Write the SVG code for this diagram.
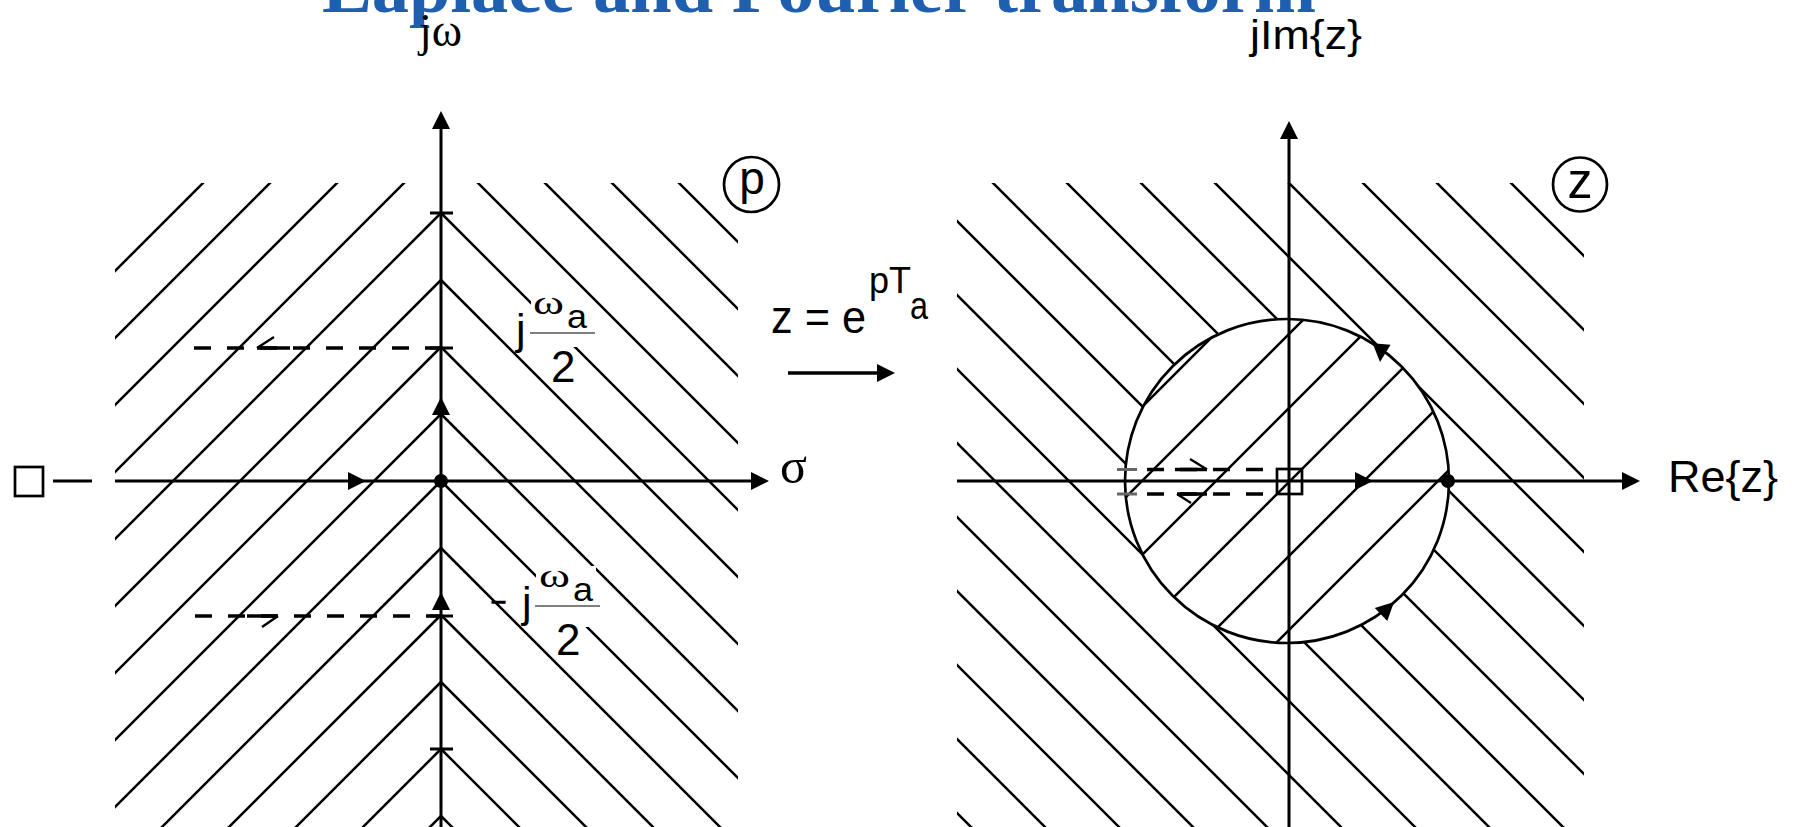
<svg xmlns="http://www.w3.org/2000/svg" width="1800" height="827" viewBox="0 0 1800 827">
<style>
.h{stroke:#000;stroke-width:2.5;fill:none}
.ax{stroke:#000;stroke-width:3;fill:none}
.ds{stroke:#000;stroke-width:3.5;stroke-dasharray:17 16;fill:none}
.sol{stroke:#000;stroke-width:3.5;fill:none}
.barb{stroke:#000;stroke-width:2.4;fill:none}
.tk{stroke:#000;stroke-width:3;fill:none}
.gt{stroke:#666;stroke-width:3;fill:none}
.ol{stroke:#000;stroke-width:2.7;fill:none}
.fr{stroke:#555;stroke-width:1.6;fill:none}
.sans{font-family:"Liberation Sans",Arial,sans-serif;fill:#000}
.serif{font-family:"Liberation Serif","Times New Roman",serif;fill:#000}
.mask{fill:#fff;stroke:none}
</style>
<defs>
<path id="ah" d="M0,0 L-18,-9 L-18,9 Z" fill="#000"/>
<clipPath id="clipL"><rect x="115" y="183" width="623" height="644"/></clipPath>
<clipPath id="clipOut"><path clip-rule="evenodd" d="M957,183 H1584 V827 H957 Z M1125,481 A162,162 0 1,0 1449,481 A162,162 0 1,0 1125,481 Z"/></clipPath>
<clipPath id="clipIn"><circle cx="1287" cy="481" r="162"/></clipPath>
</defs>

<g id="title">
<text x="322" y="12" font-family="'Liberation Serif','Times New Roman',serif" font-weight="bold" font-size="74" fill="#1f5fb0" textLength="994" lengthAdjust="spacingAndGlyphs">Laplace and Fourier transform</text>
</g>

<g id="p-plane">
<g id="p-hatch" clip-path="url(#clipL)">
<path class="h" d="M441,-55l-700,700M441,12l-700,700M441,79l-700,700M441,146l-700,700M441,213l-700,700M441,280l-700,700M441,347l-700,700M441,414l-700,700M441,481l-700,700M441,548l-700,700M441,615l-700,700M441,682l-700,700M441,749l-700,700M441,816l-700,700"/>
<path class="h" d="M441,-55l700,700M441,12l700,700M441,79l700,700M441,146l700,700M441,213l700,700M441,280l700,700M441,347l700,700M441,414l700,700M441,481l700,700M441,548l700,700M441,615l700,700M441,682l700,700M441,749l700,700M441,816l700,700"/>
</g>
<g id="p-ticks">
<path class="tk" d="M430,213H453M430,348H453M430,616H453M430,749H453"/>
</g>
<g id="p-dashed-upper">
<path class="ds" d="M194,348H442"/>
<path class="sol" d="M257,348H290"/>
<path class="barb" d="M257,348L274,337"/>
</g>
<g id="p-dashed-lower">
<path class="ds" d="M195,616H442"/>
<path class="sol" d="M247,616H278"/>
<path class="barb" d="M278,616L262,627"/>
</g>
<g id="p-pole">
<rect class="ol" x="15" y="467" width="28" height="29"/>
<path class="ax" d="M53,481H92"/>
</g>
<circle id="p-origin" cx="441" cy="481" r="7" fill="#000"/>
<g id="p-label-circle">
<circle class="ol" cx="751.5" cy="184.5" r="27.5"/>
<text class="sans" x="752" y="194" font-size="46" text-anchor="middle">p</text>
</g>
<g id="label-jw">
<text class="serif" x="419" y="46" font-size="46">jω</text>
</g>
<g id="label-sigma">
<text class="serif" x="780" y="483" font-size="50">σ</text>
</g>
<g id="label-wa2-upper">
<rect class="mask" x="531" y="300" width="59" height="47"/>
<text class="sans" x="516" y="344" font-size="43">j</text>
<text class="serif" x="533" y="314" font-size="34" textLength="31" lengthAdjust="spacingAndGlyphs">ω</text>
<text class="sans" x="567" y="328" font-size="33" textLength="20" lengthAdjust="spacingAndGlyphs">a</text>
<path class="fr" d="M530,333H595"/>
<text class="sans" x="551" y="382" font-size="44">2</text>
</g>
<g id="label-wa2-lower">
<rect class="mask" x="536" y="566" width="60" height="61"/>
<text class="sans" x="490" y="616" font-size="42" textLength="17" lengthAdjust="spacingAndGlyphs">−</text>
<text class="sans" x="522" y="617" font-size="43">j</text>
<text class="serif" x="539" y="587" font-size="34" textLength="31" lengthAdjust="spacingAndGlyphs">ω</text>
<text class="sans" x="573" y="601" font-size="33" textLength="20" lengthAdjust="spacingAndGlyphs">a</text>
<path class="fr" d="M535,606H600"/>
<text class="sans" x="556" y="655" font-size="44">2</text>
</g>
</g>

<g id="mapping">
<text class="sans" x="771" y="333" font-size="46" textLength="95" lengthAdjust="spacingAndGlyphs">z = e</text>
<text class="sans" x="869" y="293" font-size="36">pT</text>
<text class="sans" x="910" y="319" font-size="38" textLength="18" lengthAdjust="spacingAndGlyphs">a</text>
</g>

<g id="z-plane">
<g id="z-hatch-out" clip-path="url(#clipOut)">
<path class="h" d="M1428,100l800,800M1354,100l800,800M1280,100l800,800M1206,100l800,800M1132,100l800,800M1058,100l800,800M984,100l800,800M910,100l800,800M836,100l800,800M762,100l800,800M688,100l800,800M614,100l800,800M540,100l800,800M466,100l800,800M392,100l800,800M318,100l800,800M244,100l800,800"/>
</g>
<g id="z-hatch-in" clip-path="url(#clipIn)">
<path class="h" d="M1080,469l420,-420M1080,543l420,-420M1080,617l420,-420M1080,691l420,-420M1080,765l420,-420M1080,839l420,-420"/>
</g>
<circle id="unit-circle" class="ol" cx="1287" cy="481" r="162"/>
<g id="z-dashed-upper">
<path class="gt" d="M1117,469.5H1137"/>
<path class="ds" d="M1147,469.5H1277"/>
<path class="sol" d="M1175,469.5H1207"/>
<path class="barb" d="M1207,469.5L1190,459"/>
</g>
<g id="z-dashed-lower">
<path class="gt" d="M1117,494H1137"/>
<path class="ds" d="M1147,494H1277"/>
<path class="sol" d="M1177,494H1207"/>
<path class="barb" d="M1177,494L1191,503"/>
</g>
<rect id="z-pole" class="ol" x="1277" y="469" width="25" height="25"/>
<circle id="z-one" cx="1448" cy="481" r="7" fill="#000"/>
<g id="z-label-circle">
<circle class="ol" cx="1580" cy="184.5" r="27"/>
<text class="sans" x="1580" y="198" font-size="50" text-anchor="middle">z</text>
</g>
<g id="label-jim">
<text class="sans" x="1250" y="49" font-size="40" textLength="112" lengthAdjust="spacingAndGlyphs">jIm{z}</text>
</g>
<g id="label-rez">
<text class="sans" x="1668" y="492" font-size="45">Re{z}</text>
</g>
</g>

<g id="connectors">
<path id="axis-jw" class="ax" d="M441,827V125"/>
<use href="#ah" transform="translate(441,111) rotate(-90)"/>
<use href="#ah" transform="translate(441,397) rotate(-90)"/>
<use href="#ah" transform="translate(441,592) rotate(-90)"/>
<path id="axis-sigma" class="ax" d="M115,481H755"/>
<use href="#ah" transform="translate(366,481)"/>
<use href="#ah" transform="translate(769,481)"/>
<path id="map-arrow" class="sol" d="M788,373H880"/>
<use href="#ah" transform="translate(895,373)"/>
<path id="axis-im" class="ax" d="M1289,827V135"/>
<use href="#ah" transform="translate(1289,121) rotate(-90)"/>
<path id="axis-re" class="ax" d="M957,481H1626"/>
<use href="#ah" transform="translate(1373,481)"/>
<use href="#ah" transform="translate(1640,481)"/>
<use href="#ah" transform="translate(1380,362) rotate(95)"/>
<use href="#ah" transform="translate(1394,602) rotate(-44)"/>
</g>
</svg>
